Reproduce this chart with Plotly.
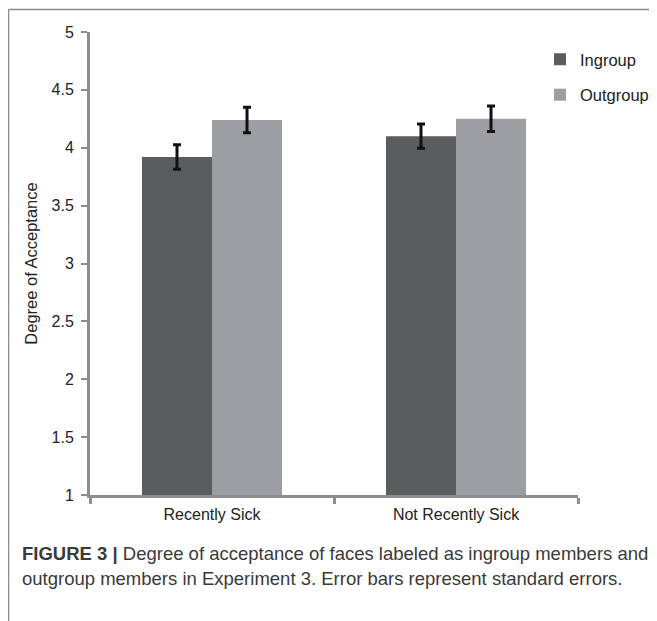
import plotly.graph_objects as go

categories = ["Recently Sick", "Not Recently Sick"]
ingroup = [3.92, 4.10]
outgroup = [4.24, 4.25]
ingroup_se = [0.105, 0.105]
outgroup_se = [0.11, 0.11]
y_ticks = [1, 1.5, 2, 2.5, 3, 3.5, 4, 4.5, 5]

# the page body adds an 8 px offset, so figure coordinates are screen - 8
OFF = 8
W, H = 657 - OFF, 621 - OFF
L, T = 90 - OFF, 32 - OFF
PR, PB = 578 - OFF, 495 - OFF
R, B = W - PR, H - PB
PW, PH = W - L - R, H - T - B


def px(x):
    return (x - OFF - L) / PW


def py(y):
    return (H - B - (y - OFF)) / PH


fig = go.Figure()
fig.add_trace(go.Bar(
    name="Ingroup", x=categories, y=ingroup,
    marker=dict(color="#5b5c5e", line=dict(width=0)),
    error_y=dict(type="data", array=ingroup_se, color="#111111", thickness=3, width=4),
    legendgroup="a",
))
fig.add_trace(go.Bar(
    name="Outgroup", x=categories, y=outgroup,
    marker=dict(color="#9d9ea2", line=dict(width=0)),
    error_y=dict(type="data", array=outgroup_se, color="#111111", thickness=3, width=4),
    legendgroup="b",
))

axis_col = "#8c8c91"
fig.update_layout(
    width=W, height=H,
    margin=dict(l=L, r=R, t=T, b=B, autoexpand=False),
    paper_bgcolor="white", plot_bgcolor="white",
    barmode="group", bargap=0.426, bargroupgap=0,
    font=dict(family="Liberation Sans, Arial, sans-serif", size=16, color="#222222"),
    showlegend=True,
    legend=dict(x=px(540), y=py(42), xanchor="left", yanchor="top",
                traceorder="grouped", tracegroupgap=11, itemwidth=30,
                font=dict(size=16.5, color="#222222"), bgcolor="rgba(0,0,0,0)"),
    xaxis=dict(
        showline=True, linecolor=axis_col, linewidth=3,
        ticks="outside", tickson="boundaries", ticklen=6, tickwidth=3, tickcolor=axis_col,
        showgrid=False, tickfont=dict(size=16), range=[-0.5, 1.5],
        ticklabelstandoff=3,
    ),
    yaxis=dict(
        range=[1, 5], tickvals=y_ticks, ticktext=[str(v) for v in y_ticks],
        showline=True, linecolor=axis_col, linewidth=3,
        ticks="outside", ticklen=6, tickwidth=2, tickcolor=axis_col,
        showgrid=False, zeroline=False, tickfont=dict(size=16),
        ticklabelstandoff=4,
        title=dict(text="Degree of Acceptance", font=dict(size=16.5), standoff=10),
    ),
)

# figure frame (left and top rules)
fig.add_shape(type="line", xref="paper", yref="paper",
              x0=px(8.5), x1=px(8.5), y0=py(621), y1=py(9.5),
              line=dict(color="#8a8a8a", width=1.5))
fig.add_shape(type="line", xref="paper", yref="paper",
              x0=px(8.5), x1=px(657), y0=py(9.5), y1=py(9.5),
              line=dict(color="#8a8a8a", width=1.5))

cap_font = dict(family="Liberation Sans, Arial, sans-serif", size=18.5, color="#3a3a3a")
fig.add_annotation(xref="paper", yref="paper", x=px(20), y=py(553),
                   xanchor="left", yanchor="middle", showarrow=False, align="left",
                   text="<b>FIGURE 3 |</b> Degree of acceptance of faces labeled as ingroup members and",
                   font=cap_font)
fig.add_annotation(xref="paper", yref="paper", x=px(20), y=py(578),
                   xanchor="left", yanchor="middle", showarrow=False, align="left",
                   text="outgroup members in Experiment 3. Error bars represent standard errors.",
                   font=cap_font)

fig.write_html("out.html")
